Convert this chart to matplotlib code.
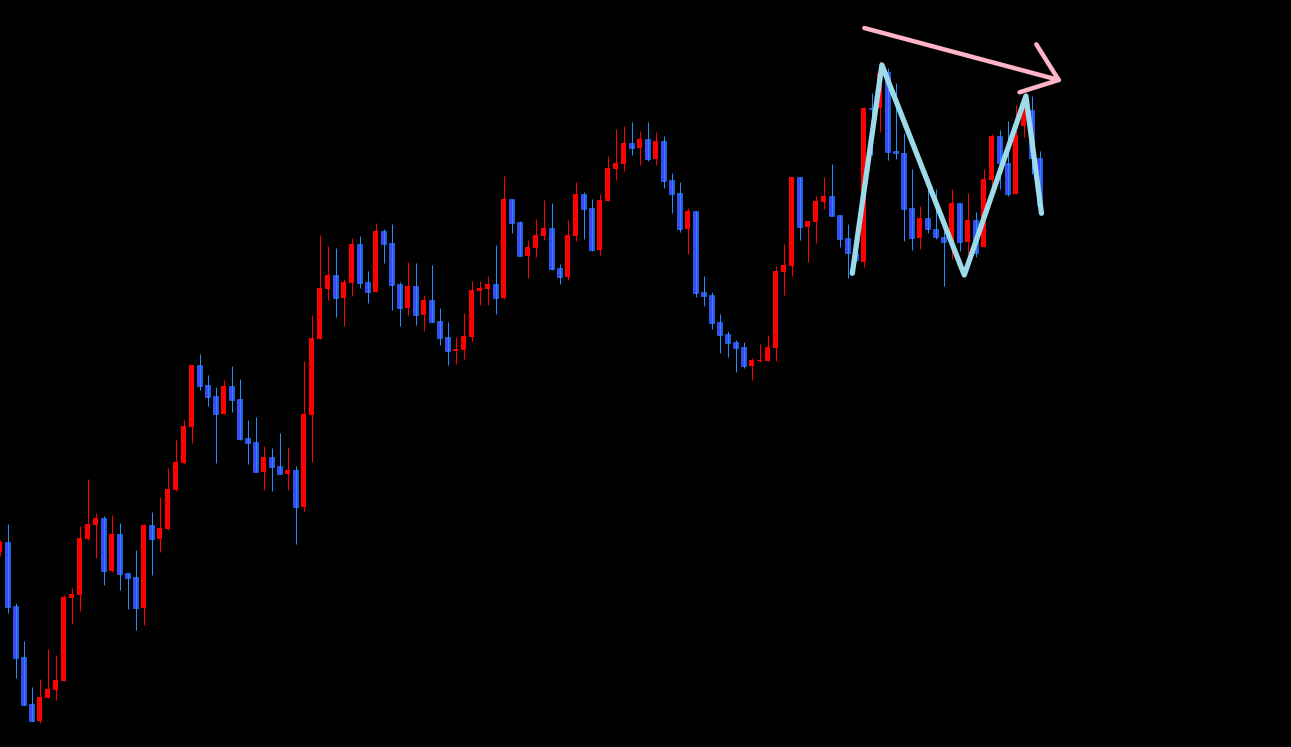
import numpy as np
import matplotlib
matplotlib.use("Agg")
import matplotlib.pyplot as plt

# OHLC values (arbitrary price units), one entry per candle
opens = [198, 208, 144, 93, 46, 29.3, 52.3, 60.3, 69.3, 152.3,
         155.3, 211, 225.3, 231.7, 179, 216, 177, 173, 142.3, 225,
         211, 220.7, 260, 287, 323, 385, 365, 354, 336.3, 364,
         351, 312, 308, 278.3, 293, 284, 276.3, 280, 243.3, 335,
         411, 461, 475, 452.3, 467, 506, 468, 458.3, 519, 507,
         466, 442.3, 464, 435.3, 450, 429, 413, 399.3, 400.3, 413,
         459.3, 461.3, 466, 452.3, 551, 528, 494.3, 502.3, 514, 522,
         482, 473.3, 514, 556, 542, 500.3, 549.3, 581, 586.3, 607,
         602.3, 611, 591.3, 609, 570, 557, 521.3, 539, 458, 455,
         428, 416, 408, 403, 384.3, 388.7, 389.3, 402.3, 478, 484,
         573, 523.3, 528.3, 548.3, 554, 535, 512, 497.3, 488.3, 642.3,
         641.7, 678, 599, 597, 542, 512.3, 532, 521, 513, 507.7,
         547, 507.7, 530, 503.3, 570, 613.7, 586.7, 555.7, 624, 640,
         591.7]
highs = [210, 226, 147, 109, 63, 71, 101, 95, 155, 162.3,
         224, 271, 237, 234, 235, 227, 177, 200, 226, 238,
         253, 282, 310, 330, 385, 396, 375, 363, 370, 384,
         371, 330, 333, 304, 302, 317, 303, 284, 389, 435,
         515, 504, 502, 471, 512, 514, 479, 527, 521, 526,
         468, 488, 487, 455, 485, 442, 428, 413, 437, 469,
         469, 474, 505, 574, 551, 529, 510, 531, 550, 547,
         486, 530, 568, 558, 551, 556, 594, 621, 624, 628,
         619, 628, 618, 614, 577, 568, 542, 539, 474, 458,
         436.3, 419, 410, 408, 392.3, 406.3, 415.3, 484, 506, 573,
         573, 529, 554, 573, 586, 535, 526, 502, 643, 657.3,
         689, 681.7, 667, 617, 581.3, 544, 561, 561, 519.3, 561,
         547, 557, 538, 581, 616, 620.3, 629, 645, 656, 654,
         599]
lows = [194, 137, 72, 45, 29, 27.5, 52.3, 50.3, 69.3, 126.3,
        139.3, 210, 192.3, 165.3, 178.3, 160.3, 141.3, 120.3, 125.3, 175.3,
        198.3, 220, 259.3, 286.3, 307.3, 360.3, 344.3, 287.3, 336.3, 338.3,
        310.3, 286.3, 278.3, 260.3, 259.3, 276.3, 260.3, 206.3, 239.3, 288.3,
        411, 450.3, 433.3, 424.3, 454.3, 462.3, 447.3, 458.3, 487.3, 440.3,
        424.3, 435.3, 425.3, 419.3, 428.3, 405.3, 385.3, 386.3, 391.3, 409.3,
        445.3, 445.3, 436.3, 451.3, 517.3, 494.3, 472.3, 493.3, 510.3, 480.3,
        466.3, 470.3, 509.3, 511.3, 499.3, 495.3, 549.3, 570, 579, 595,
        585, 589, 585, 562.3, 537.3, 518.3, 496.3, 453.3, 444.3, 421.3,
        397.3, 393.3, 378.3, 382.3, 370.3, 388.3, 389.3, 389.3, 455.3, 474.3,
        510.3, 488.3, 507.3, 541.3, 534.3, 503.3, 472.3, 488, 483.3, 595,
        618.3, 590, 591.3, 509.3, 500.3, 500.7, 516.7, 511.3, 464.3, 491.3,
        499.3, 497, 493, 503.3, 563.3, 560.7, 554.3, 555.7, 613.3, 575.7,
        545]
closes = [208, 143, 92, 45, 29.5, 53, 61, 70, 153, 156,
          212, 226, 232, 179.3, 216, 176.3, 172.3, 142.3, 225, 211.3,
          222, 261, 288, 324, 385, 364.3, 353.3, 336.3, 364, 350.3,
          311, 307.3, 278.3, 293, 283.3, 276.3, 280, 243.3, 336, 412,
          462, 475, 452.3, 468, 506, 467.3, 458.3, 519, 506.3, 465.3,
          442.3, 464, 435.3, 450, 428.3, 412.3, 399.3, 401, 414, 460,
          462, 466, 452.3, 551, 527.3, 494.3, 503, 515, 522, 481.3,
          473.3, 515, 556, 541.3, 500.3, 550, 582, 587, 607, 602.3,
          611, 591.3, 609, 569.3, 556.3, 521.3, 539, 457.3, 454.3, 427.3,
          415.3, 407.3, 402.3, 384.3, 390.3, 390.3, 403, 479, 485, 573,
          523.3, 529, 549, 554, 534.3, 511.3, 497.3, 490, 642, 641.3,
          676.7, 598.3, 596.7, 541.3, 512.3, 532, 520.7, 512.7, 507.7, 547,
          507.7, 530, 496.7, 571, 614.3, 586.7, 555.7, 615, 643.3, 591.7,
          545]

# hand-drawn annotations (candle index, price)
wave_x = [106.6, 110.3, 120.6, 128.3, 130.25]
wave_y = [476.7, 685, 475, 654, 536.7]
arrow_x = [108.1, 132.4]
arrow_y = [722, 670]
barb1_x = [129.6, 132.4]
barb1_y = [705.7, 670]
barb2_x = [127.5, 132.4]
barb2_y = [657.7, 670]

UP = "#ff0000"
DN_FACE = "#3d47ff"
DN_EDGE = "#2a80ff"

o = np.array(opens, float)
h = np.array(highs, float)
l = np.array(lows, float)
c = np.array(closes, float)
x = np.arange(len(o))
up = c >= o

fig = plt.figure(figsize=(12.91, 7.47), dpi=100, facecolor="black")
ax = fig.add_axes([0, 0, 1, 1], facecolor="black")

# wicks
ax.vlines(x[up], l[up], h[up], color=UP, linewidth=0.72)
ax.vlines(x[~up], l[~up], h[~up], color="#1e90ff", linewidth=0.72)

# bodies
body_bot = np.minimum(o, c)
body_h = np.maximum(np.abs(c - o), 1.2)
ax.bar(x[up], body_h[up], bottom=body_bot[up], width=0.64,
       color=UP, linewidth=0)
ax.bar(x[~up], body_h[~up], bottom=body_bot[~up], width=0.6,
       color=DN_FACE, edgecolor=DN_EDGE, linewidth=0.45)

# annotations
ax.plot(wave_x, wave_y, color="#9edbea", linewidth=3.8,
        solid_capstyle="round", solid_joinstyle="round", zorder=5)
for xs, ys in [(arrow_x, arrow_y), (barb1_x, barb1_y), (barb2_x, barb2_y)]:
    ax.plot(xs, ys, color="#ffb4c8", linewidth=3.2,
            solid_capstyle="round", zorder=6)

ax.set_xlim(0.0625, 161.4375)
ax.set_ylim(3, 750)
ax.axis("off")

fig.savefig("out.png", dpi=100, facecolor="black")
